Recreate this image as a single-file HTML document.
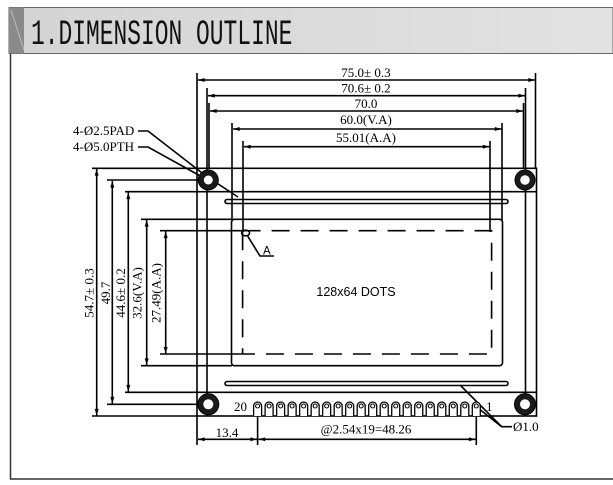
<!DOCTYPE html>
<html><head><meta charset="utf-8"><style>
html,body{margin:0;padding:0;background:#fff;width:613px;height:485px;overflow:hidden}
svg{display:block}
.t{font-family:"Liberation Serif",serif;font-size:13px;fill:#000}
</style></head><body>
<svg width="613" height="485" viewBox="0 0 613 485" xmlns="http://www.w3.org/2000/svg">
<defs>
<marker id="a" viewBox="0 0 10 6" refX="10" refY="3" markerWidth="8" markerHeight="4" orient="auto-start-reverse" markerUnits="userSpaceOnUse"><path d="M0,0L10,3L0,6z" fill="#000"/></marker>
<linearGradient id="hg" x1="0" x2="1"><stop offset="0" stop-color="#d4d4d4"/><stop offset="1" stop-color="#e2e2e2"/></linearGradient>
<g id="pin"><path d="M-4,416V406a4,4 0 0 1 8,0V416" fill="#fff" stroke="#000" stroke-width="1.3"/><circle cx="0" cy="406" r="2" fill="#fff" stroke="#000" stroke-width="1.1"/></g>
</defs>
<!-- header -->
<rect x="9" y="7.5" width="604" height="46" fill="url(#hg)" stroke="#666" stroke-width="1"/>
<rect x="9" y="7.5" width="15" height="46" fill="#8a8a8a"/>
<line x1="11" y1="10" x2="24" y2="50" stroke="#bbb" stroke-width="1"/>
<text x="31" y="44" font-family="Liberation Mono, monospace" font-size="35" fill="#111" transform="translate(31 0) scale(0.655 1) translate(-31 0)">1.DIMENSION OUTLINE</text>
<!-- frame -->
<polyline points="10.5,53.5 10.5,479 613,479" fill="none" stroke="#333" stroke-width="1.5"/>

<g stroke="#000" stroke-width="1.6" fill="none">
<rect x="197" y="168.3" width="339.5" height="247.7"/>
<line x1="207" y1="88" x2="207" y2="416"/>
<line x1="525.5" y1="88" x2="525.5" y2="416"/>
<line x1="209" y1="103" x2="209" y2="168"/>
<line x1="523.5" y1="103" x2="523.5" y2="168"/>
<line x1="197" y1="73" x2="197" y2="168"/>
<line x1="535.5" y1="73" x2="535.5" y2="168"/>
<line x1="232" y1="123" x2="232" y2="220"/>
<line x1="502" y1="123" x2="502" y2="220"/>
<line x1="243" y1="141" x2="243" y2="232"/>
<line x1="490" y1="141" x2="490" y2="232"/>
<line x1="125" y1="191.7" x2="536.5" y2="191.7"/>
<line x1="125" y1="392.3" x2="536.5" y2="392.3"/>
<line x1="92" y1="168.3" x2="197" y2="168.3"/>
<line x1="92" y1="416" x2="197" y2="416"/>
<line x1="107" y1="180" x2="198" y2="180"/>
<line x1="107" y1="404.3" x2="198" y2="404.3"/>
<line x1="141" y1="219.3" x2="232" y2="219.3"/>
<line x1="141" y1="365.7" x2="232" y2="365.7"/>
<line x1="160" y1="230.7" x2="242" y2="230.7"/>
<line x1="160" y1="354" x2="242" y2="354"/>
<rect x="231.5" y="219.3" width="271" height="146.4" rx="3"/>
<rect x="242.6" y="230.7" width="249" height="123.3" stroke-dasharray="18,11"/>
<rect x="225" y="199.5" width="283" height="4" rx="2"/>
<rect x="225" y="381.5" width="283" height="4" rx="2"/>
<line x1="198" y1="80" x2="535" y2="80" marker-start="url(#a)" marker-end="url(#a)"/>
<line x1="208" y1="95.7" x2="525" y2="95.7" marker-start="url(#a)" marker-end="url(#a)"/>
<line x1="210" y1="111" x2="523" y2="111" marker-start="url(#a)" marker-end="url(#a)"/>
<line x1="233" y1="129" x2="501.5" y2="129" marker-start="url(#a)" marker-end="url(#a)"/>
<line x1="244" y1="146.7" x2="489.5" y2="146.7" marker-start="url(#a)" marker-end="url(#a)"/>
<line x1="96.7" y1="169" x2="96.7" y2="415.5" marker-start="url(#a)" marker-end="url(#a)"/>
<line x1="112.3" y1="181" x2="112.3" y2="403.5" marker-start="url(#a)" marker-end="url(#a)"/>
<line x1="128.3" y1="192.5" x2="128.3" y2="391.5" marker-start="url(#a)" marker-end="url(#a)"/>
<line x1="146.7" y1="220" x2="146.7" y2="365" marker-start="url(#a)" marker-end="url(#a)"/>
<line x1="165.7" y1="231.5" x2="165.7" y2="353.5" marker-start="url(#a)" marker-end="url(#a)"/>
<line x1="197" y1="416" x2="197" y2="445"/>
<line x1="257.6" y1="410" x2="257.6" y2="445"/>
<line x1="476.3" y1="410" x2="476.3" y2="445"/>
<line x1="198" y1="439.3" x2="257" y2="439.3" marker-start="url(#a)" marker-end="url(#a)"/>
<line x1="258.5" y1="439.3" x2="475.5" y2="439.3" marker-start="url(#a)" marker-end="url(#a)"/>
<polyline points="138,131 148,131 206,176 238,197"/>
<polyline points="138,147 148,147 204,178"/>
<polyline points="460,385 501.7,426.7 512,426.7"/>
<polyline points="478,408 501.7,426.7"/>
<ellipse cx="245.6" cy="233" rx="4" ry="2.8"/>
<polyline points="247,235 260,256 274,256"/>
</g>
<g fill="#1a1a1a" stroke="#000" stroke-width="1">
<circle cx="208.3" cy="180" r="10"/>
<circle cx="525" cy="180" r="10"/>
<circle cx="208.3" cy="404.3" r="10.5"/>
<circle cx="525" cy="404.3" r="10.5"/>
</g>
<g fill="#fff">
<circle cx="208.3" cy="180" r="4.5"/>
<circle cx="525" cy="180" r="4.8"/>
<circle cx="208.3" cy="404.3" r="5"/>
<circle cx="525" cy="404.3" r="5"/>
</g>
<!-- pins -->
<use href="#pin" x="257.6"/><use href="#pin" x="269.11"/><use href="#pin" x="280.62"/><use href="#pin" x="292.13"/><use href="#pin" x="303.64"/>
<use href="#pin" x="315.15"/><use href="#pin" x="326.66"/><use href="#pin" x="338.17"/><use href="#pin" x="349.68"/><use href="#pin" x="361.19"/>
<use href="#pin" x="372.7"/><use href="#pin" x="384.21"/><use href="#pin" x="395.72"/><use href="#pin" x="407.23"/><use href="#pin" x="418.74"/>
<use href="#pin" x="430.25"/><use href="#pin" x="441.76"/><use href="#pin" x="453.27"/><use href="#pin" x="464.78"/><use href="#pin" x="476.29"/>
<g class="t" text-anchor="middle">
<text x="366" y="77">75.0± 0.3</text>
<text x="366" y="92.5">70.6± 0.2</text>
<text x="366" y="108">70.0</text>
<text x="366" y="124">60.0(V.A)</text>
<text x="366" y="142">55.01(A.A)</text>
<text x="227" y="437">13.4</text>
<text x="366" y="433.5">@2.54x19=48.26</text>
<text transform="translate(93.5 293) rotate(-90)">54.7± 0.3</text>
<text transform="translate(110 293) rotate(-90)">49.7</text>
<text transform="translate(125 293) rotate(-90)">44.6± 0.2</text>
<text transform="translate(141.5 293) rotate(-90)">32.6(V.A)</text>
<text transform="translate(160.5 293) rotate(-90)">27.49(A.A)</text>
</g>
<g class="t">
<text x="73" y="135">4-Ø2.5PAD</text>
<text x="73" y="151">4-Ø5.0PTH</text>
<text x="513" y="431">Ø1.0</text>
<text x="234" y="411">20</text>
<text x="486" y="411">1</text>
</g>
<text x="263" y="254.5" font-family="Liberation Sans, sans-serif" font-size="11.5">A</text>
<text x="356" y="296" font-family="Liberation Sans, sans-serif" font-size="12.5" text-anchor="middle">128x64 DOTS</text>
</svg>
</body></html>
